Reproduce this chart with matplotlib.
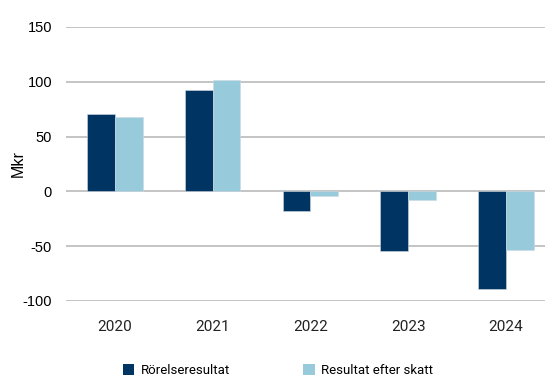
import numpy as np
import matplotlib
matplotlib.use("Agg")
import matplotlib.pyplot as plt
from matplotlib.patches import Patch

# Resultat per år (Mkr)
years = ["2020", "2021", "2022", "2023", "2024"]
rorelseresultat = [71, 92.5, -18, -54.5, -89]
resultat_efter_skatt = [68, 101.5, -4, -7.5, -53.5]

dark = "#003463"
light = "#97CADB"

fig = plt.figure(figsize=(5.45, 3.77), dpi=100)
ax = fig.add_axes([66 / 545, 1 - 301 / 377, 1 - 66 / 545, (301 - 27) / 377])

x = np.arange(len(years))
w = 0.285
ax.bar(x - w / 2, rorelseresultat, w, color=dark, edgecolor="#d0d8e0", linewidth=0.4, zorder=3)
ax.bar(x + w / 2, resultat_efter_skatt, w, color=light, edgecolor="#d0d8e0", linewidth=0.4, zorder=3)

ax.set_xlim(-0.5, 4.4)
ax.set_ylim(-100, 150)
ax.set_yticks([-100, -50, 0, 50, 100, 150])
ax.set_yticklabels(["-100", "-50", "0", "50", "100", "150"], family="Liberation Sans", fontsize=10.5)
ax.set_xticks(x)
ax.set_xticklabels(years, family="Roboto", fontsize=11, color="#222222")
ax.tick_params(axis="both", length=0)
ax.tick_params(axis="x", pad=14)
ax.tick_params(axis="y", pad=10)
ax.grid(axis="y", color="#c4c4c4", linewidth=1.4, zorder=0)
for s in ax.spines.values():
    s.set_visible(False)

fig.text(18 / 545, 1 - 164 / 377, "Mkr", rotation=90, ha="center", va="center",
         family="Liberation Sans", fontsize=11.5)

handles = [Patch(facecolor=dark, label="Rörelseresultat"),
           Patch(facecolor=light, label="Resultat efter skatt")]
fig.legend(handles=handles, loc="center", bbox_to_anchor=(0.51, 0.016), ncol=2,
           frameon=False, handlelength=0.9, handleheight=0.9, handletextpad=0.5,
           columnspacing=5.5, prop={"family": "Roboto", "size": 9.5})

fig.savefig("out.png", dpi=100)
